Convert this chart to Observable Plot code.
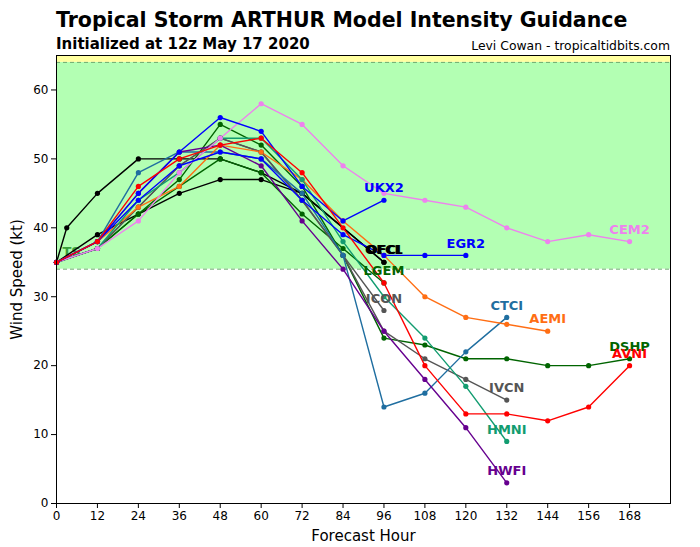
<!DOCTYPE html>
<html>
<head>
<meta charset="utf-8">
<script src="https://cdn.jsdelivr.net/npm/d3@7"></script>
<script src="https://cdn.jsdelivr.net/npm/@observablehq/plot@0.6"></script>
<style>
  html, body { margin: 0; padding: 0; background: #fff; }
  body { width: 700px; height: 547px; overflow: hidden; font-family: "DejaVu Sans", sans-serif; }
  #head { position: relative; height: 52px; }
  #title { position: absolute; left: 56px; top: 10px; font-size: 20.5px; line-height: 20px; font-weight: bold; color: #000; white-space: nowrap; }
  #sub { position: absolute; left: 56px; top: 37px; font-size: 15px; line-height: 14px; font-weight: bold; color: #000; white-space: nowrap; }
  #credit { position: absolute; right: 30px; top: 40px; font-size: 12.4px; line-height: 12px; color: #000; white-space: nowrap; }
  #chart svg { display: block; }
</style>
</head>
<body>
<div id="head">
  <div id="title">Tropical Storm ARTHUR Model Intensity Guidance</div>
  <div id="sub">Initialized at 12z May 17 2020</div>
  <div id="credit">Levi Cowan - tropicaltidbits.com</div>
</div>
<div id="chart"></div>
<script>
// Forecast hours (every 12 h); the official forecast also carries an hour-3 point
const hours = [0, 12, 24, 36, 48, 60, 72, 84, 96, 108, 120, 132, 144, 156, 168];
const ofclHours = [0, 3, 12, 24, 36, 48, 60, 72, 96];
const hourTicks = [0, 12, 24, 36, 48, 60, 72, 84, 96, 108, 120, 132, 144, 156, 168];
const ktTicks = [0, 10, 20, 30, 40, 50, 60];

// Intensity thresholds (kt): tropical storm and hurricane
const thresholds = [34, 64];
const ktMax = 65;
const hourMax = 180;
const bandLabels = ["TS"];

// Wind speed forecasts (kt); null = no forecast at that hour
const OFCI = [35, 39, 42, 45, 47, 47, 45, null, 35];
const OFCL = [35, 40, 45, 50, 50, 50, 48, 45, 35];
const LGEM = [35, 37, 42, 46, 50, 48, 42, 37, 32];
const DSHP = [35, 37, 42, 47, 55, 52, 46, 36, 24, 23, 21, 21, 20, 20, 21];
const ICON = [35, 37, 43, 49, 53, 51, 44, 36, 28];
const IVCN = [35, 37, 43, 49, 53, 51, 44, 36, 25, 21, 18, 15];
const CTCI = [35, 38, 48, 51, 51, 50, 45, 36, 14, 16, 22, 27];
const AEMI = [35, 38, 43, 46, 52, 51, 47, 41, 36, 30, 27, 26, 25];
const HMNI = [35, 37, 44, 48, 53, 53, 47, 38, 30, 24, 17, 9];
const HWFI = [35, 38, 45, 51, 52, 49, 41, 34, 25, 18, 11, 3];
const CEM2 = [35, 37, 41, 48, 53, 58, 55, 49, 45, 44, 43, 40, 38, 39, 38];
const EGR2 = [35, 38, 44, 49, 51, 50, 44, 39, 36, 36, 36];
const UKX2 = [35, 38, 45, 51, 56, 54, 46, 41, 44];
const AVNI = [35, 38, 46, 50, 52, 53, 48, 40, 32, 20, 13, 13, 12, 14, 20];

// Drawing order (later ones on top) and line colours
const models = [
  { name: "OFCI", hrs: hours, kt: OFCI, color: "#000000" },
  { name: "OFCL", hrs: ofclHours, kt: OFCL, color: "#000000" },
  { name: "LGEM", hrs: hours, kt: LGEM, color: "#006400" },
  { name: "DSHP", hrs: hours, kt: DSHP, color: "#006400" },
  { name: "ICON", hrs: hours, kt: ICON, color: "#555555" },
  { name: "IVCN", hrs: hours, kt: IVCN, color: "#555555" },
  { name: "CTCI", hrs: hours, kt: CTCI, color: "#1f6ea0" },
  { name: "AEMI", hrs: hours, kt: AEMI, color: "#ff6e14" },
  { name: "HMNI", hrs: hours, kt: HMNI, color: "#129c70" },
  { name: "HWFI", hrs: hours, kt: HWFI, color: "#66008f" },
  { name: "CEM2", hrs: hours, kt: CEM2, color: "#ee82ee" },
  { name: "EGR2", hrs: hours, kt: EGR2, color: "#0000ff" },
  { name: "UKX2", hrs: hours, kt: UKX2, color: "#0000ff" },
  { name: "AVNI", hrs: hours, kt: AVNI, color: "#ff0000" }
];

const rows = models.flatMap(m =>
  m.kt.map((v, i) => ({ model: m.name, hour: m.hrs[i], kt: v, color: m.color }))
      .filter(d => d.kt != null)
);
const lastPoints = models.map(m => {
  const pts = rows.filter(d => d.model === m.name);
  return pts[pts.length - 1];
});

const bands = [
  { lo: thresholds[0], hi: thresholds[1], fill: "#b3ffb3" },
  { lo: thresholds[1], hi: ktMax, fill: "#ffffa0" }
];

const chart = Plot.plot({
  width: 700,
  height: 495,
  marginTop: 3,
  marginLeft: 56,
  marginRight: 30,
  marginBottom: 44,
  style: { fontFamily: "DejaVu Sans, sans-serif", fontSize: "12px", background: "#fff", color: "#000" },
  x: { domain: [0, hourMax] },
  y: { domain: [0, ktMax] },
  marks: [
    Plot.rect(bands, { x1: 0, x2: hourMax, y1: "lo", y2: "hi", fill: d => d.fill }),
    Plot.ruleY(thresholds, { stroke: "#6faa6f", strokeWidth: 1, strokeDasharray: "4,3" }),
    Plot.text(bandLabels, { x: 0, y: thresholds[0], text: d => d, dx: 6, dy: -17, textAnchor: "start",
      fill: "#3a9e3a", fontSize: 13, fontWeight: "bold" }),
    ...models.map(m => Plot.line(rows.filter(d => d.model === m.name),
      { x: "hour", y: "kt", stroke: m.color, strokeWidth: 1.4 })),
    ...models.map(m => Plot.dot(rows.filter(d => d.model === m.name),
      { x: "hour", y: "kt", r: 2.6, fill: m.color, stroke: "none" })),
    Plot.text(lastPoints, { x: "hour", y: "kt", text: "model", fill: d => d.color, dy: -12,
      fontSize: 13, fontWeight: "bold" }),
    Plot.frame({ stroke: "#000", strokeWidth: 1 }),
    Plot.axisX({ ticks: hourTicks, tickSize: 5, tickPadding: 3, fontSize: 12,
      label: "Forecast Hour", labelAnchor: "center", labelArrow: "none", labelOffset: 37 }),
    Plot.axisY({ ticks: ktTicks, tickSize: 5, tickPadding: 3, fontSize: 12,
      label: "Wind Speed (kt)", labelAnchor: "center", labelArrow: "none", labelOffset: 45 })
  ]
});
chart.querySelectorAll('[aria-label="x-axis label"] text, [aria-label="y-axis label"] text')
  .forEach(t => t.setAttribute("font-size", "15px"));
document.getElementById("chart").appendChild(chart);
</script>
</body>
</html>
